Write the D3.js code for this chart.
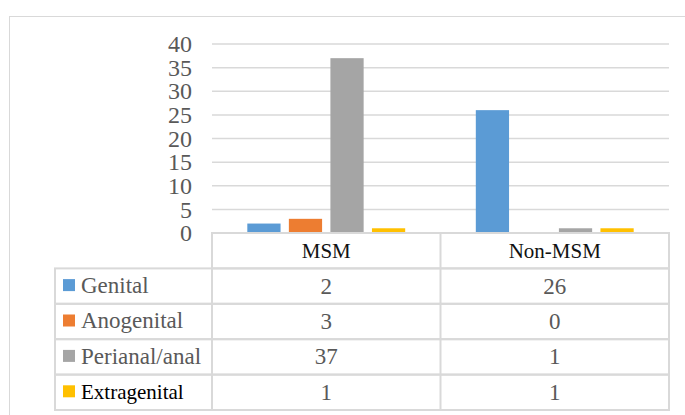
<!DOCTYPE html>
<html>
<head>
<meta charset="utf-8">
<script src="https://cdn.jsdelivr.net/npm/d3@7"></script>
<style>
  html, body { margin: 0; padding: 0; background: #fff; }
  svg { display: block; }
  svg text { font-family: 'Liberation Serif', 'Times New Roman', Times, serif; }
</style>
</head>
<body>
<svg class="chart"></svg>
<script>
// data
const categories = ['MSM', 'Non-MSM'];
const seriesNames = ['Genital', 'Anogenital', 'Perianal/anal', 'Extragenital'];
const seriesValues = [
  [2, 26],
  [3, 0],
  [37, 1],
  [1, 1]
];
const yTicks = [0, 5, 10, 15, 20, 25, 30, 35, 40];
const seriesColors = ['#5B9BD5', '#ED7D31', '#A5A5A5', '#FFC000'];

const width = 685;
const height = 415;
const plot = { left: 212, right: 669, top: 44, bottom: 233 };
const tableBottom = 410;
const tableLeft = 55;
const gridColor = '#d9d9d9';

const svg = d3.select('.chart')
  .attr('width', width)
  .attr('height', height);

// outer chart frame
svg.append('rect')
  .attr('x', 9.5).attr('y', 16.5)
  .attr('width', 700).attr('height', 420)
  .attr('fill', 'none')
  .attr('stroke', gridColor);

const x0 = d3.scaleBand().domain(categories).range([plot.left, plot.right]);
const x1 = d3.scaleBand().domain(seriesNames)
  .range([0, x0.bandwidth()])
  .paddingInner(0.2)
  .paddingOuter(0.85);
const y = d3.scaleLinear().domain([0, 40]).range([plot.bottom, plot.top]);

// gridlines
svg.append('g')
  .selectAll('line')
  .data(yTicks.filter(t => t > 0))
  .enter().append('line')
  .attr('x1', plot.left).attr('x2', plot.right)
  .attr('y1', d => y(d)).attr('y2', d => y(d))
  .attr('stroke', gridColor)
  .attr('stroke-width', 1.5);

// y axis labels
const yAxis = d3.axisLeft(y).tickValues(yTicks).tickSize(0).tickPadding(20);
const yg = svg.append('g')
  .attr('transform', 'translate(' + plot.left + ',0)')
  .call(yAxis)
  .attr('font-family', null)
  .attr('font-size', null);
yg.select('.domain').remove();
yg.selectAll('text')
  .attr('fill', '#595959')
  .style('font-size', '24px');

// bars
const groups = svg.append('g')
  .selectAll('g')
  .data(seriesNames)
  .enter().append('g')
  .attr('fill', (d, i) => seriesColors[i]);

groups.selectAll('rect')
  .data((s, i) => categories.map((c, j) => ({ series: s, cat: c, value: seriesValues[i][j] })))
  .enter().append('rect')
  .attr('x', d => x0(d.cat) + x1(d.series))
  .attr('y', d => y(d.value))
  .attr('width', x1.bandwidth())
  .attr('height', d => y(0) - y(d.value));

// data table
const rows = d3.scaleBand().domain(['header'].concat(seriesNames)).range([plot.bottom, tableBottom]);
const table = svg.append('g')
  .attr('stroke', gridColor)
  .attr('stroke-width', 2)
  .attr('fill', 'none');

// header row box
table.append('rect')
  .attr('x', plot.left).attr('y', rows('header'))
  .attr('width', plot.right - plot.left).attr('height', rows.bandwidth());
table.append('line')
  .attr('x1', x0('Non-MSM')).attr('x2', x0('Non-MSM'))
  .attr('y1', rows('header')).attr('y2', tableBottom);

// series rows
table.selectAll('.row')
  .data(seriesNames)
  .enter().append('rect')
  .attr('class', 'row')
  .attr('x', tableLeft).attr('y', d => rows(d))
  .attr('width', plot.right - tableLeft).attr('height', rows.bandwidth());
table.append('line')
  .attr('x1', plot.left).attr('x2', plot.left)
  .attr('y1', rows('header')).attr('y2', tableBottom);

// header labels
svg.append('g')
  .selectAll('text')
  .data(categories)
  .enter().append('text')
  .attr('x', d => x0(d) + x0.bandwidth() / 2)
  .attr('y', rows('header') + rows.bandwidth() / 2)
  .attr('dy', '0.33em')
  .attr('text-anchor', 'middle')
  .attr('fill', '#111')
  .style('font-size', '21px')
  .text(d => d);

// legend keys + row labels
const legend = svg.append('g')
  .selectAll('g')
  .data(seriesNames)
  .enter().append('g')
  .attr('transform', d => 'translate(0,' + (rows(d) + rows.bandwidth() / 2) + ')');

legend.append('rect')
  .attr('x', 63).attr('y', -7)
  .attr('width', 12).attr('height', 12)
  .attr('fill', (d, i) => seriesColors[i]);

legend.append('text')
  .attr('x', 81)
  .attr('dy', '0.3em')
  .attr('fill', d => d === 'Extragenital' ? '#000' : '#595959')
  .style('font-size', d => d === 'Extragenital' ? '21px' : '23px')
  .text(d => d);

// value cells
legend.selectAll('.val')
  .data((s, i) => categories.map((c, j) => ({ cat: c, value: seriesValues[i][j] })))
  .enter().append('text')
  .attr('class', 'val')
  .attr('x', d => x0(d.cat) + x0.bandwidth() / 2)
  .attr('dy', '0.33em')
  .attr('text-anchor', 'middle')
  .attr('fill', '#595959')
  .style('font-size', '23px')
  .text(d => d.value);
</script>
</body>
</html>
